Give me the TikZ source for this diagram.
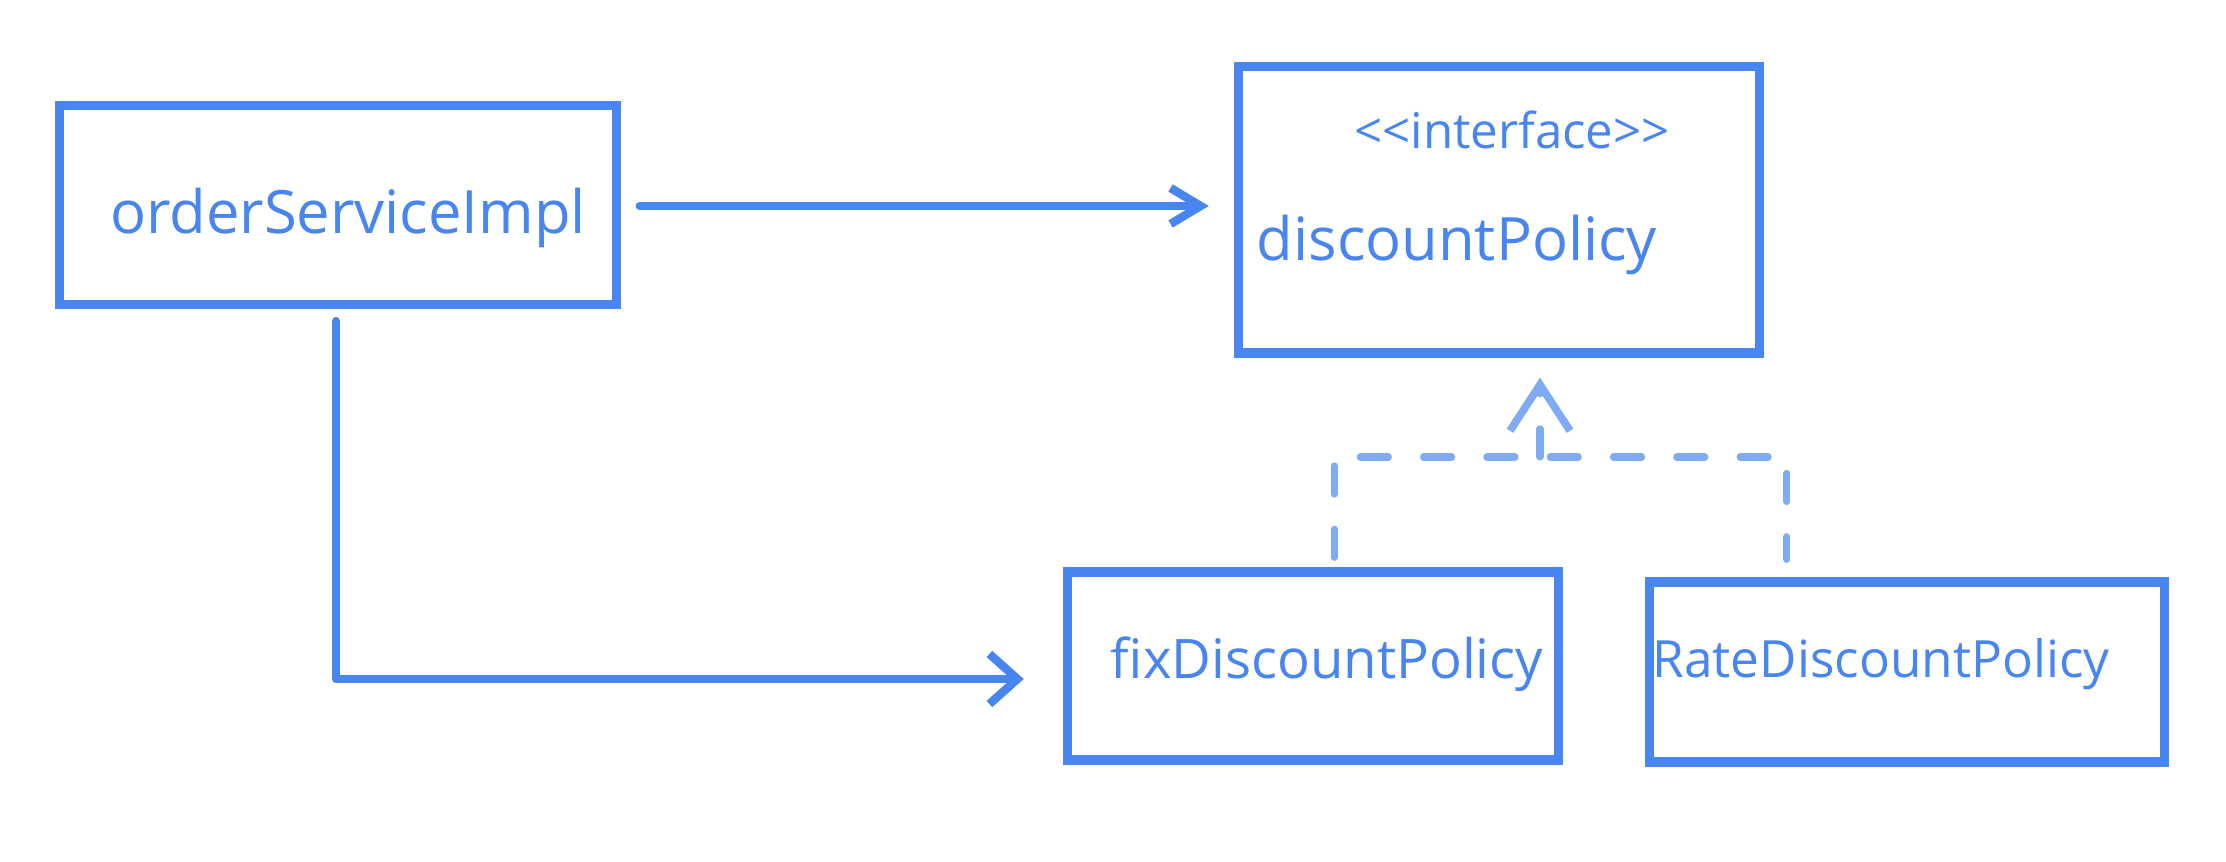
\documentclass[tikz,border=0pt]{standalone}
\usepackage{fontspec}
\setmainfont{Open Sans}
\usetikzlibrary{arrows.meta,calc}
\definecolor{pen}{RGB}{72,133,240}
\tikzset{
  box/.style={draw=pen, line width=2.6pt, rectangle, inner sep=0pt},
  lbl/.style={text=pen, inner sep=0pt, font=\fontsize{17}{20}\selectfont},
  conn/.style={draw=pen, line width=2.4pt, line cap=round, line join=round},
  impl/.style={draw=pen!70, line width=2pt, dash pattern=on 8pt off 10pt, line cap=round},
}
\begin{document}
\begin{tikzpicture}[x=0.01cm,y=-0.01cm]
\useasboundingbox (0,0) rectangle (2226,862);
% boxes
\node[box, minimum width=5.56cm, minimum height=1.99cm] (oimpl) at (338,205) {};
\node[box, minimum width=5.21cm, minimum height=2.86cm] (disc) at (1499,210) {};
\node[box, minimum width=4.91cm, minimum height=1.88cm] (fix) at (1313,666) {};
\node[box, minimum width=5.15cm, minimum height=1.80cm] (rate) at (1907,672) {};
% texts
\node[lbl] (toimpl) at (348,218) {orderServiceImpl};
\node[lbl, font=\fontsize{14}{17}\selectfont] (tiface) at (1512,130) {<{}<interface>{}>};
\node[lbl, anchor=west] (tdisc) at (1256,245) {discountPolicy};
\node[lbl, font=\fontsize{15.5}{18}\selectfont] (tfix) at (1327,664) {fixDiscountPolicy};
\node[lbl, font=\fontsize{14.6}{18}\selectfont] (trate) at (1881,664) {RateDiscountPolicy};
% association arrows
\draw[conn, -{Straight Barb[length=0.3cm, width=0.36cm, line width=2.4pt]}]
  ([xshift=0.19cm,yshift=-0.01cm]oimpl.east) -- ([xshift=-0.25cm,yshift=-0.01cm]oimpl.east -| disc.west);
\draw[conn, -{Straight Barb[length=0.28cm, width=0.5cm, line width=2.4pt]}]
  ([xshift=-0.02cm,yshift=-0.12cm]oimpl.south) |- ([xshift=-0.39cm,yshift=-0.13cm]fix.west);
% realization (dashed)
\coordinate (junc) at (1540,457);
\draw[impl] ([xshift=0.21cm,yshift=0.1cm]fix.north) |- (junc) -| ([xshift=-1.2cm,yshift=0.18cm]rate.north);
\draw[impl, -{Straight Barb[length=0.46cm, width=0.6cm, line width=2.2pt]}] (junc) -- ([yshift=-0.2cm]junc |- disc.south);
\end{tikzpicture}
\end{document}
